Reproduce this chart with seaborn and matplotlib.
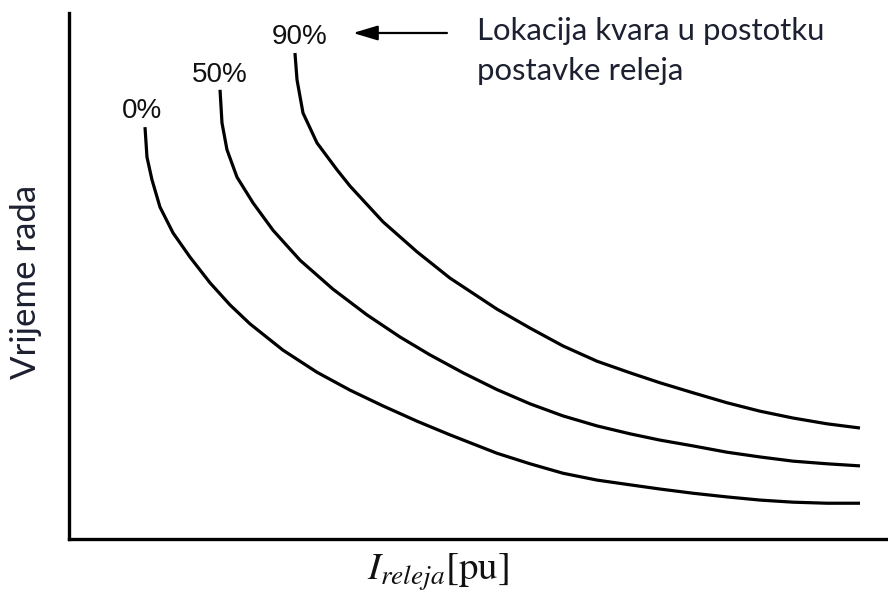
import numpy as np
import pandas as pd
import matplotlib
matplotlib.use("Agg")
import matplotlib.pyplot as plt
import seaborn as sns

# Curve data (relative current vs. operating time)
x_0 = [0.928, 0.952, 1.013, 1.111, 1.270, 1.477, 1.722, 1.966, 2.210, 2.613, 3.028, 3.431,
       3.834, 4.249, 4.652, 5.226, 5.629, 6.032, 6.447, 6.850, 7.216, 7.619, 8.034, 8.437,
       8.840, 9.255, 9.658]
y_0 = [7.83, 7.26, 6.83, 6.31, 5.82, 5.36, 4.87, 4.45, 4.09, 3.59, 3.17, 2.83,
       2.53, 2.24, 1.98, 1.63, 1.43, 1.25, 1.12, 1.03, 0.95, 0.87, 0.80, 0.74,
       0.70, 0.68, 0.68]

x_50 = [1.844, 1.868, 1.929, 2.051, 2.247, 2.491, 2.821, 3.223, 3.639, 4.042, 4.408, 4.811,
        5.226, 5.629, 6.032, 6.447, 6.850, 7.216, 7.619, 8.034, 8.437, 8.840, 9.255, 9.658]
y_50 = [8.54, 7.91, 7.40, 6.88, 6.39, 5.87, 5.30, 4.75, 4.26, 3.84, 3.50, 3.16,
        2.84, 2.57, 2.34, 2.15, 2.00, 1.88, 1.77, 1.65, 1.56, 1.48, 1.43, 1.39]

x_90 = [2.759, 2.784, 2.857, 3.028, 3.272, 3.431, 3.834, 4.249, 4.652, 5.226, 5.629,
        6.032, 6.447, 6.850, 7.216, 7.619, 8.034, 8.437, 8.840, 9.255, 9.658]
y_90 = [9.24, 8.73, 8.10, 7.53, 7.02, 6.71, 6.03, 5.46, 4.96, 4.37, 4.01,
        3.67, 3.38, 3.16, 2.97, 2.78, 2.59, 2.43, 2.30, 2.19, 2.11]

series_labels = ["0%", "50%", "90%"]
label_x = [0.891, 1.844, 2.821]
label_y = [8.00, 8.69, 9.41]

annot_lines = ["Lokacija kvara u postotku", "postavke releja"]
annot_x = 4.98
annot_y = [9.487, 8.726]
arrow_tip = (3.468, 9.62)
arrow_tail = (4.615, 9.62)

ylabel_text = "Vrijeme rada"
xlabel_text = r"$I_{releja}\mathrm{[pu]}$"

df = pd.concat([
    pd.DataFrame({"x": x_0, "y": y_0, "s": "0%"}),
    pd.DataFrame({"x": x_50, "y": y_50, "s": "50%"}),
    pd.DataFrame({"x": x_90, "y": y_90, "s": "90%"}),
])

sns.set_style("white")
plt.rcParams["mathtext.fontset"] = "stix"

fig = plt.figure(figsize=(8.88, 5.98), dpi=100)
ax = fig.add_axes([69/888, 1-539/598, 1-69/888, (539-13)/598])

sns.lineplot(data=df, x="x", y="y", hue="s", palette=["black"]*3, sort=False,
             legend=False, ax=ax, linewidth=2.3, estimator=None)
for ln in ax.get_lines():
    ln.set_solid_capstyle("butt")
    ln.set_solid_joinstyle("round")

ax.set_xlim(0, 10)
ax.set_ylim(0, 10)
ax.set_xticks([])
ax.set_yticks([])
for side in ["top", "right"]:
    ax.spines[side].set_visible(False)
for side in ["left", "bottom"]:
    ax.spines[side].set_color("black")
    ax.spines[side].set_linewidth(2.4)

for t, lx, ly in zip(series_labels, label_x, label_y):
    ax.text(lx, ly, t, ha="center", va="baseline", fontsize=20,
            family="Liberation Sans", color="#111111")

ax.annotate("", xy=arrow_tip, xytext=arrow_tail,
            arrowprops=dict(arrowstyle="-|>,head_length=1.5,head_width=0.45",
                            color="black", lw=1.6, shrinkA=0, shrinkB=0))
for line, ly in zip(annot_lines, annot_y):
    ax.text(annot_x, ly, line, ha="left", va="baseline", fontsize=22.4,
            family="Lato", color="#1c2030")

ax.set_ylabel(ylabel_text, fontsize=25, family="Lato", color="#1c2030")
ax.yaxis.label.set_va("center")
ax.yaxis.set_label_coords(-0.0525, 0.489)

ax.set_xlabel(xlabel_text, fontsize=28, color="#111111")
ax.xaxis.label.set_va("center")
ax.xaxis.set_label_coords(0.45, -0.063)

fig.savefig("out.png", dpi=100)
